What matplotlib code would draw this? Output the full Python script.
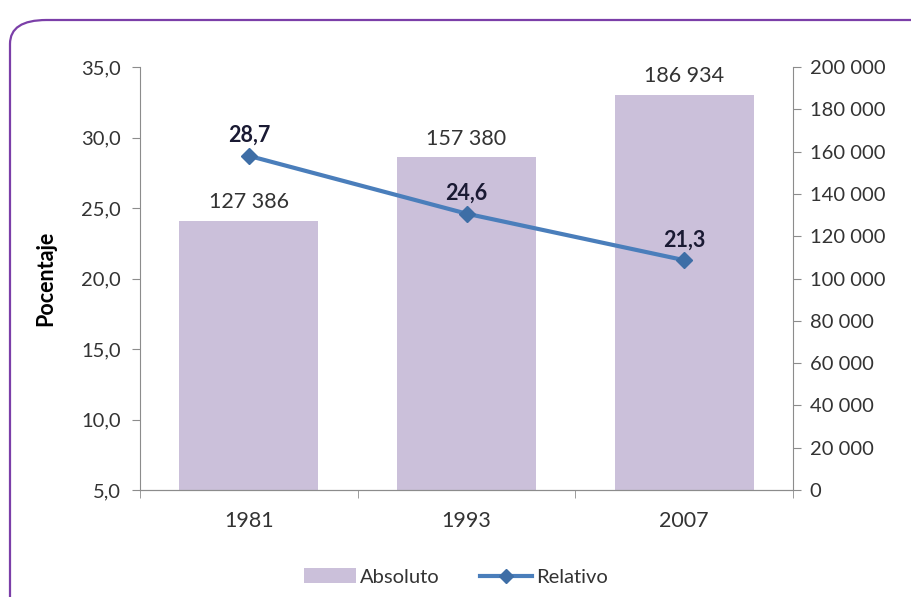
import matplotlib
matplotlib.use("Agg")
import matplotlib.pyplot as plt
from matplotlib.patches import FancyBboxPatch, Patch
from matplotlib.lines import Line2D

years = ["1981", "1993", "2007"]
absoluto = [127386, 157380, 186934]
relativo = [28.7, 24.6, 21.3]
left_ticks = [5, 10, 15, 20, 25, 30, 35]
right_ticks = [0, 20000, 40000, 60000, 80000, 100000, 120000, 140000, 160000, 180000, 200000]

plt.rcParams['font.family'] = ['Lato', 'DejaVu Sans']

def fmt_thousands(v):
    return f"{int(v):,}".replace(",", " ")

fig = plt.figure(figsize=(9.12, 5.97), dpi=100)
fig.patch.set_facecolor("white")

# rounded purple border
border = FancyBboxPatch((10/912, 1 - 660/597), 940/912, 640/597,
                        boxstyle="round,pad=0,rounding_size=0.04",
                        transform=fig.transFigure, fill=False,
                        edgecolor="#7B3FA8", linewidth=1.6, clip_on=False)
fig.patches.append(border)

ax = fig.add_axes([140/912, 1 - 490/597, (793 - 140)/912, (490 - 67)/597])
ax2 = ax.twinx()

x = list(range(len(years)))
axis_col = "#8C8C8C"
text_col = "#333333"

# bars on right axis
ax2.bar(x, absoluto, width=0.64, color="#CBC0DA", zorder=1)
ax2.set_ylim(0, 200000)
ax2.set_yticks(right_ticks)
ax2.set_yticklabels([fmt_thousands(v) for v in right_ticks], fontsize=14.5, color=text_col)
for xi, v in zip(x, absoluto):
    ax2.text(xi, v + 4000, fmt_thousands(v), ha="center", va="bottom", fontsize=15.5,
             color=text_col)

# line on left axis, drawn above bars
ax.set_zorder(ax2.get_zorder() + 1)
ax.patch.set_visible(False)
ax.plot(x, relativo, color="#4A7EBB", linewidth=3, marker="D", markersize=8,
        markerfacecolor="#3E6EA6", markeredgecolor="#3E6EA6", zorder=3)
for xi, v in zip(x, relativo):
    ax.text(xi, v + 0.7, f"{v:.1f}".replace(".", ","), ha="center", va="bottom",
            fontsize=15.5, fontweight="bold", color="#1A1A33")
ax.set_ylim(5, 35)
ax.set_yticks(left_ticks)
ax.set_yticklabels([f"{v:.1f}".replace(".", ",") for v in left_ticks], fontsize=14.5,
                   color=text_col)
ax.set_xlim(-0.5, 2.5)
ax.set_xticks(x)
ax.set_xticklabels(years, fontsize=15.5, color=text_col)
ax.tick_params(axis="x", length=0, pad=15)
ax.set_xticks([-0.5, 0.5, 1.5, 2.5], minor=True)
ax.tick_params(axis="x", which="minor", length=6, color=axis_col)
ax.set_ylabel("Pocentaje", fontsize=15.5, fontweight="bold", color="black", labelpad=18)

for a in (ax, ax2):
    a.spines["top"].set_visible(False)
    a.spines["left"].set_color(axis_col)
    a.spines["right"].set_color(axis_col)
    a.spines["bottom"].set_color(axis_col)
ax.spines["right"].set_visible(False)
ax2.spines["left"].set_visible(False)
ax.tick_params(axis="y", length=6, color=axis_col, pad=8)
ax2.tick_params(axis="y", length=6, color=axis_col, pad=6)

handles = [Patch(facecolor="#CBC0DA", edgecolor="none", label="Absoluto"),
           Line2D([0], [0], color="#4A7EBB", linewidth=3, marker="D", markersize=7,
                  markerfacecolor="#3E6EA6", markeredgecolor="#3E6EA6", label="Relativo")]
fig.legend(handles=handles, loc="center", bbox_to_anchor=(0.5, 1 - 577/597), ncol=2,
           frameon=False, handlelength=2.6, handletextpad=0.2, columnspacing=2.0,
           labelcolor=text_col, prop={"size": 14.5})

fig.savefig("out.png", dpi=100)
